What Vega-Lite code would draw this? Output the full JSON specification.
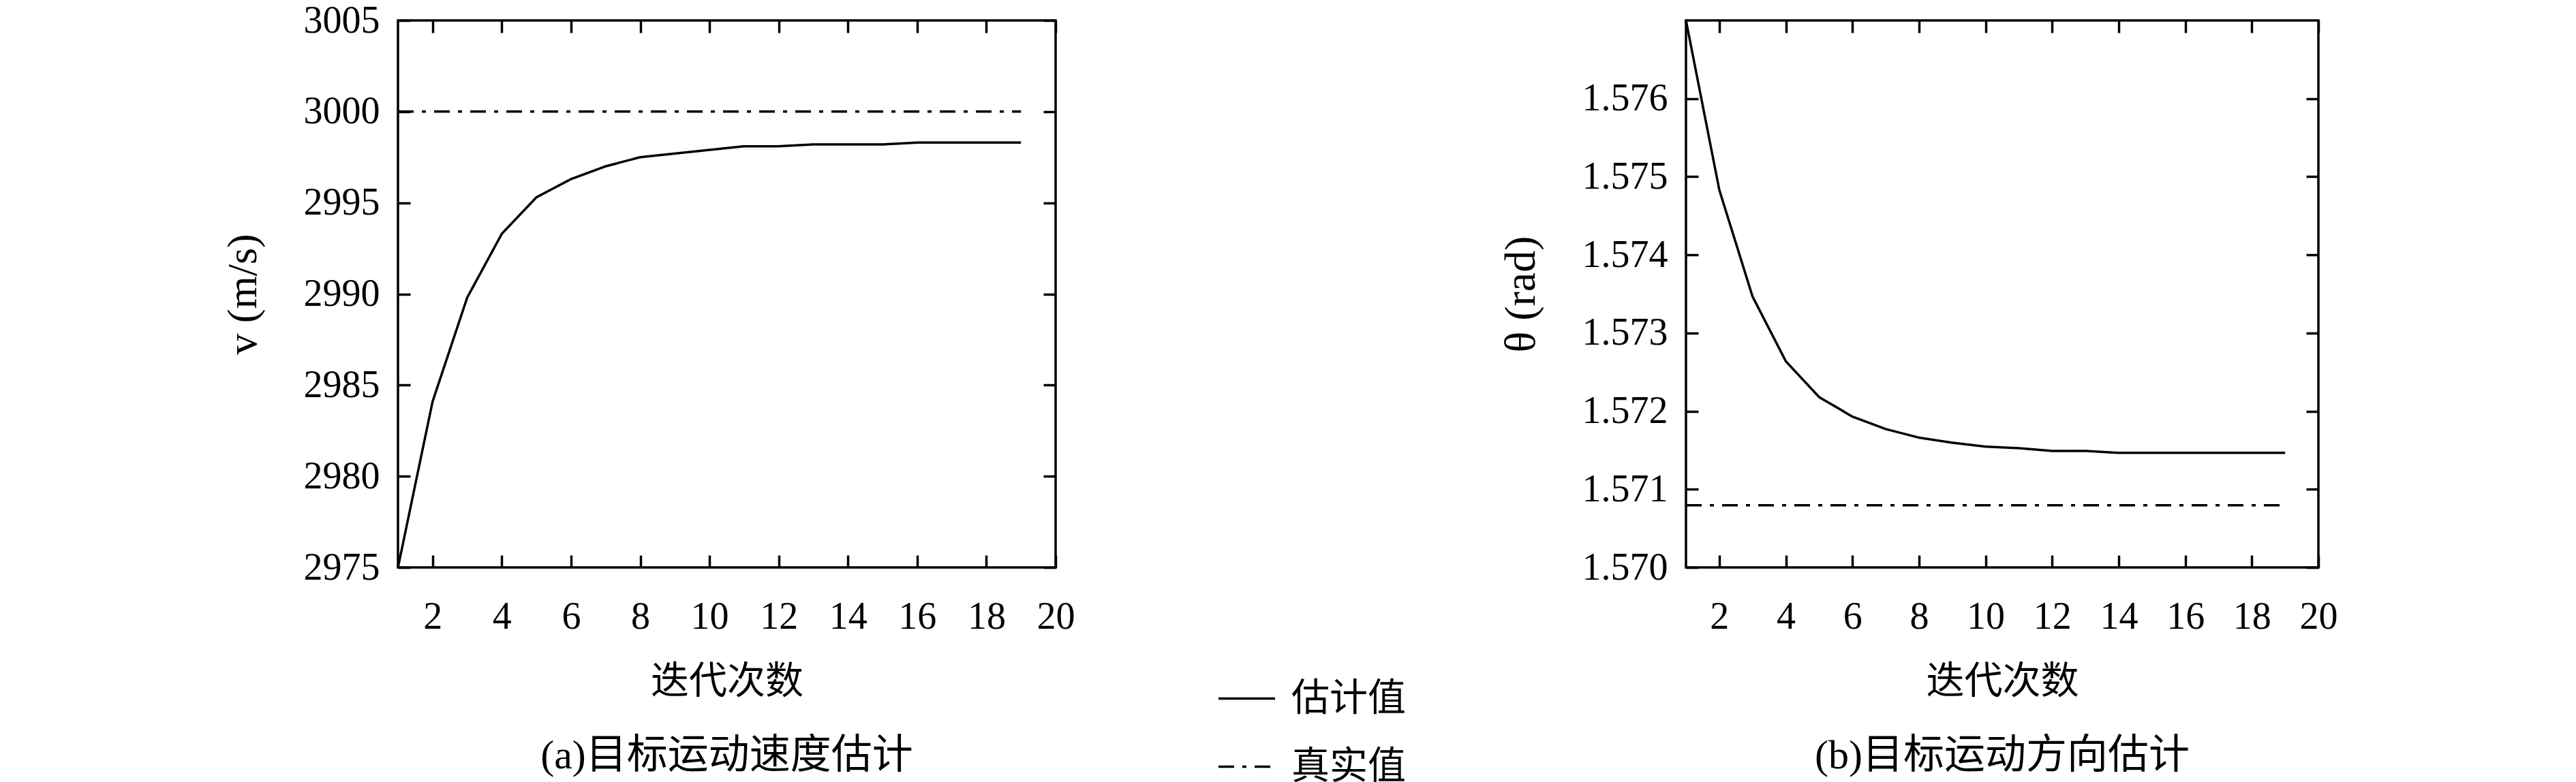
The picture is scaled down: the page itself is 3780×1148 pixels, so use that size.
{
  "$schema": "https://vega.github.io/schema/vega-lite/v6.json",
  "background": "white",
  "padding": {"left": 323, "top": 0, "right": 0, "bottom": 0},
  "datasets": {
    "speed": [
      {"iter": 1, "value": 2975.0, "series": "估计值"},
      {"iter": 2, "value": 2984.1, "series": "估计值"},
      {"iter": 3, "value": 2989.8, "series": "估计值"},
      {"iter": 4, "value": 2993.3, "series": "估计值"},
      {"iter": 5, "value": 2995.3, "series": "估计值"},
      {"iter": 6, "value": 2996.3, "series": "估计值"},
      {"iter": 7, "value": 2997.0, "series": "估计值"},
      {"iter": 8, "value": 2997.5, "series": "估计值"},
      {"iter": 9, "value": 2997.7, "series": "估计值"},
      {"iter": 10, "value": 2997.9, "series": "估计值"},
      {"iter": 11, "value": 2998.1, "series": "估计值"},
      {"iter": 12, "value": 2998.1, "series": "估计值"},
      {"iter": 13, "value": 2998.2, "series": "估计值"},
      {"iter": 14, "value": 2998.2, "series": "估计值"},
      {"iter": 15, "value": 2998.2, "series": "估计值"},
      {"iter": 16, "value": 2998.3, "series": "估计值"},
      {"iter": 17, "value": 2998.3, "series": "估计值"},
      {"iter": 18, "value": 2998.3, "series": "估计值"},
      {"iter": 19, "value": 2998.3, "series": "估计值"},
      {"iter": 1, "value": 3000, "series": "真实值"},
      {"iter": 19, "value": 3000, "series": "真实值"}
    ],
    "angle": [
      {"iter": 1, "value": 1.577, "series": "估计值"},
      {"iter": 2, "value": 1.574833, "series": "估计值"},
      {"iter": 3, "value": 1.573466, "series": "估计值"},
      {"iter": 4, "value": 1.572638, "series": "估计值"},
      {"iter": 5, "value": 1.57218, "series": "估计值"},
      {"iter": 6, "value": 1.57193, "series": "估计值"},
      {"iter": 7, "value": 1.571771, "series": "估计值"},
      {"iter": 8, "value": 1.571661, "series": "估计值"},
      {"iter": 9, "value": 1.571596, "series": "估计值"},
      {"iter": 10, "value": 1.571546, "series": "估计值"},
      {"iter": 11, "value": 1.571526, "series": "估计值"},
      {"iter": 12, "value": 1.571491, "series": "估计值"},
      {"iter": 13, "value": 1.571491, "series": "估计值"},
      {"iter": 14, "value": 1.571466, "series": "估计值"},
      {"iter": 15, "value": 1.571466, "series": "估计值"},
      {"iter": 16, "value": 1.571466, "series": "估计值"},
      {"iter": 17, "value": 1.571466, "series": "估计值"},
      {"iter": 18, "value": 1.571466, "series": "估计值"},
      {"iter": 19, "value": 1.571466, "series": "估计值"},
      {"iter": 1, "value": 1.570796, "series": "真实值"},
      {"iter": 19, "value": 1.570796, "series": "真实值"}
    ]
  },
  "config": {
    "view": {"stroke": "black", "strokeWidth": 3.5},
    "axis": {
      "grid": false, "domain": false,
      "tickColor": "black", "tickWidth": 3.5, "tickSize": -18,
      "labelFont": "Liberation Serif", "labelFontSize": 56, "labelColor": "black",
      "labelFlush": false, "labelOverlap": false, "labelBound": false,
      "titleFont": "Liberation Serif, Noto Sans CJK SC", "titleFontWeight": "normal", "titleColor": "black"
    },
    "axisX": {"labelPadding": 63, "titleFontSize": 56, "titlePadding": 40},
    "axisY": {"labelPadding": 45, "titleFontSize": 62, "titlePadding": 57},
    "legend": {
      "orient": "none", "legendX": 1202, "legendY": 952, "padding": 0,
      "symbolType": "stroke", "symbolSize": 6889, "symbolStrokeWidth": 3.5, "symbolStrokeColor": "black",
      "labelFont": "Noto Sans CJK SC", "labelFontSize": 56, "labelColor": "black", "labelLimit": 0,
      "labelOffset": 22, "rowPadding": 28
    },
    "title": {"font": "Liberation Serif, Noto Sans CJK SC", "fontSize": 60, "fontWeight": "normal", "color": "black", "offset": 53}
  },
  "spacing": 619,
  "resolve": {"scale": {"strokeDash": "shared"}, "legend": {"strokeDash": "shared"}},
  "hconcat": [
    {
      "width": 965, "height": 803,
      "title": {"text": "(a)目标运动速度估计", "orient": "bottom"},
      "data": {"name": "speed"},
      "layer": [
        {
          "mark": {"type": "line", "color": "black", "strokeWidth": 3.5},
          "encoding": {
            "x": {"field": "iter", "type": "quantitative", "scale": {"domain": [1, 20], "nice": false, "zero": false},
                  "axis": {"orient": "bottom", "title": "迭代次数", "values": [2, 4, 6, 8, 10, 12, 14, 16, 18, 20]}},
            "y": {"field": "value", "type": "quantitative", "scale": {"domain": [2975, 3005], "nice": false, "zero": false},
                  "axis": {"orient": "left", "title": "v (m/s)", "values": [2975, 2980, 2985, 2990, 2995, 3000, 3005], "format": "d"}},
            "strokeDash": {"field": "series", "type": "nominal",
                           "scale": {"domain": ["估计值", "真实值"], "range": [[1, 0], [23, 12, 6, 12]]},
                           "legend": {"title": null}}
          }
        },
        {
          "mark": {"type": "line", "opacity": 0},
          "encoding": {
            "x": {"field": "iter", "type": "quantitative", "scale": {"domain": [1, 20], "nice": false, "zero": false},
                  "axis": {"orient": "top", "title": null, "labels": false, "values": [2, 4, 6, 8, 10, 12, 14, 16, 18, 20]}},
            "y": {"field": "value", "type": "quantitative", "scale": {"domain": [2975, 3005], "nice": false, "zero": false},
                  "axis": {"orient": "right", "title": null, "labels": false, "values": [2975, 2980, 2985, 2990, 2995, 3000, 3005]}}
          }
        }
      ],
      "resolve": {"scale": {"x": "independent", "y": "independent"}, "axis": {"x": "independent", "y": "independent"}}
    },
    {
      "width": 928, "height": 803,
      "title": {"text": "(b)目标运动方向估计", "orient": "bottom"},
      "data": {"name": "angle"},
      "layer": [
        {
          "mark": {"type": "line", "color": "black", "strokeWidth": 3.5},
          "encoding": {
            "x": {"field": "iter", "type": "quantitative", "scale": {"domain": [1, 20], "nice": false, "zero": false},
                  "axis": {"orient": "bottom", "title": "迭代次数", "values": [2, 4, 6, 8, 10, 12, 14, 16, 18, 20]}},
            "y": {"field": "value", "type": "quantitative", "scale": {"domain": [1.570, 1.577], "nice": false, "zero": false},
                  "axis": {"orient": "left", "title": "θ (rad)", "titleFontSize": 64, "values": [1.570, 1.571, 1.572, 1.573, 1.574, 1.575, 1.576], "format": ".3f"}},
            "strokeDash": {"field": "series", "type": "nominal",
                           "scale": {"domain": ["估计值", "真实值"], "range": [[1, 0], [23, 12, 6, 12]]},
                           "legend": {"title": null}}
          }
        },
        {
          "mark": {"type": "line", "opacity": 0},
          "encoding": {
            "x": {"field": "iter", "type": "quantitative", "scale": {"domain": [1, 20], "nice": false, "zero": false},
                  "axis": {"orient": "top", "title": null, "labels": false, "values": [2, 4, 6, 8, 10, 12, 14, 16, 18, 20]}},
            "y": {"field": "value", "type": "quantitative", "scale": {"domain": [1.570, 1.577], "nice": false, "zero": false},
                  "axis": {"orient": "right", "title": null, "labels": false, "values": [1.570, 1.571, 1.572, 1.573, 1.574, 1.575, 1.576]}}
          }
        }
      ],
      "resolve": {"scale": {"x": "independent", "y": "independent"}, "axis": {"x": "independent", "y": "independent"}}
    }
  ]
}
